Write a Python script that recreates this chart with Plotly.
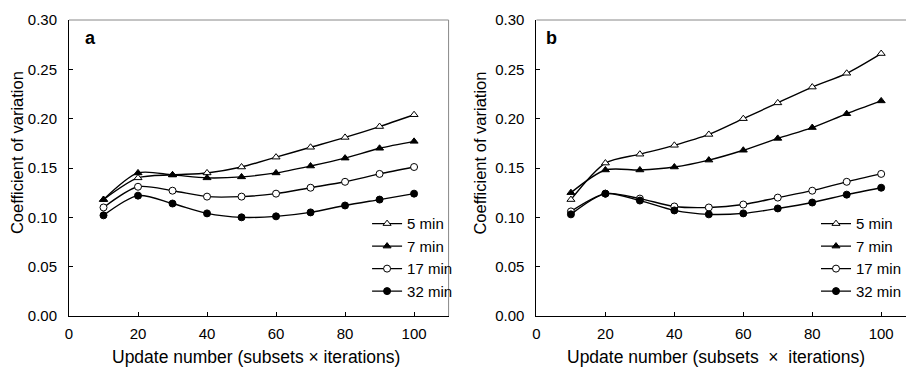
import plotly.graph_objects as go

updates = [10, 20, 30, 40, 50, 60, 70, 80, 90, 100]
series_names = ["5 min", "7 min", "17 min", "32 min"]

a_5min = [0.118, 0.140, 0.143, 0.145, 0.151, 0.161, 0.171, 0.181, 0.192, 0.204]
a_7min = [0.118, 0.145, 0.143, 0.140, 0.141, 0.145, 0.152, 0.160, 0.170, 0.177]
a_17min = [0.110, 0.131, 0.127, 0.121, 0.121, 0.124, 0.130, 0.136, 0.144, 0.151]
a_32min = [0.102, 0.122, 0.114, 0.104, 0.100, 0.101, 0.105, 0.112, 0.118, 0.124]

b_5min = [0.118, 0.155, 0.164, 0.173, 0.184, 0.200, 0.216, 0.232, 0.246, 0.266]
b_7min = [0.125, 0.148, 0.148, 0.151, 0.158, 0.168, 0.180, 0.191, 0.205, 0.218]
b_17min = [0.106, 0.124, 0.119, 0.111, 0.110, 0.113, 0.120, 0.127, 0.136, 0.144]
b_32min = [0.103, 0.124, 0.117, 0.107, 0.103, 0.104, 0.109, 0.115, 0.123, 0.130]

x_tick_vals = [0, 20, 40, 60, 80, 100]
y_tick_vals = [0.0, 0.05, 0.10, 0.15, 0.20, 0.25, 0.30]
panel_labels = ["a", "b"]
y_title = "Coefficient of variation"
x_titles = ["Update number (subsets × iterations)",
            "Update number (subsets \u00a0×\u00a0 iterations)"]

FONT = "Arial, Liberation Sans, sans-serif"
symbols = ["triangle-up", "triangle-up", "circle", "circle"]
fills = ["white", "black", "white", "black"]

fig = go.Figure()
panels = [
    ([a_5min, a_7min, a_17min, a_32min], "x", "y", "legend"),
    ([b_5min, b_7min, b_17min, b_32min], "x2", "y2", "legend2"),
]
for vals, xa, ya, lg in panels:
    for name, v, sym, fc in zip(series_names, vals, symbols, fills):
        fig.add_trace(go.Scatter(
            x=updates, y=v, name=name, mode="lines+markers",
            xaxis=xa, yaxis=ya, legend=lg,
            line=dict(color="black", width=1.4, shape="spline", smoothing=0.8),
            marker=dict(symbol=sym, size=7,
                        color=fc, line=dict(color="black", width=1)),
        ))

axis_common = dict(showgrid=False, zeroline=False, showline=True, linecolor="black",
                   linewidth=1, ticks="inside", ticklen=4, tickcolor="black",
                   tickfont=dict(family=FONT, size=15, color="black"))

fig.update_layout(
    width=907, height=367,
    margin=dict(l=69, r=0, t=20, b=51),
    paper_bgcolor="white", plot_bgcolor="white",
    font=dict(family=FONT, color="black"),
    xaxis=dict(domain=[0, 0.4535], range=[0, 110], tickvals=x_tick_vals,
               anchor="y", ticklabelstandoff=4, **axis_common),
    yaxis=dict(domain=[0, 1], range=[0, 0.30], tickvals=y_tick_vals, tickformat=".2f",
               anchor="x", ticklabelstandoff=8, **axis_common),
    xaxis2=dict(domain=[0.5585, 1], range=[0, 107.2], tickvals=x_tick_vals,
                anchor="y2", ticklabelstandoff=4, **axis_common),
    yaxis2=dict(domain=[0, 1], range=[0, 0.30], tickvals=y_tick_vals, tickformat=".2f",
                anchor="x2", ticklabelstandoff=8, **axis_common),
    legend=dict(x=0.3557, y=0.367, xanchor="left", yanchor="top",
                bgcolor="rgba(0,0,0,0)", font=dict(family=FONT, size=15),
                itemwidth=30, tracegroupgap=0),
    legend2=dict(x=0.8926, y=0.367, xanchor="left", yanchor="top",
                 bgcolor="rgba(0,0,0,0)", font=dict(family=FONT, size=15),
                 itemwidth=30, tracegroupgap=0),
    showlegend=True,
)

# gray top/right frame lines
fig.add_shape(type="line", xref="x domain", yref="y domain", x0=0, x1=1, y0=1, y1=1,
              line=dict(color="#888888", width=1))
fig.add_shape(type="line", xref="x domain", yref="y domain", x0=1, x1=1, y0=0, y1=1,
              line=dict(color="#888888", width=1))
fig.add_shape(type="line", xref="x2 domain", yref="y2 domain", x0=0, x1=1, y0=1, y1=1,
              line=dict(color="#888888", width=1))

# annotations: y titles, x titles, panel labels
for xp in [-0.062, 0.4905]:
    fig.add_annotation(text=y_title, xref="paper", yref="paper", x=xp, y=0.5507,
                       textangle=-90, showarrow=False, xanchor="center", yanchor="middle",
                       font=dict(family=FONT, size=16.5, color="black"))
for xp, t in zip([0.2237, 0.7727], x_titles):
    fig.add_annotation(text=t, xref="paper", yref="paper", x=xp, y=-0.1385,
                       showarrow=False, xanchor="center", yanchor="middle",
                       font=dict(family=FONT, size=17.5, color="black"))
for xp, t in zip([0.0167, 0.568], panel_labels):
    fig.add_annotation(text="<b>" + t + "</b>", xref="paper", yref="paper", x=xp, y=0.939,
                       showarrow=False, xanchor="left", yanchor="middle",
                       font=dict(family=FONT, size=18, color="black"))

fig.write_html("out.html", config={"displayModeBar": False},
               post_script="document.body.style.margin='0';document.body.style.overflow='hidden';")
